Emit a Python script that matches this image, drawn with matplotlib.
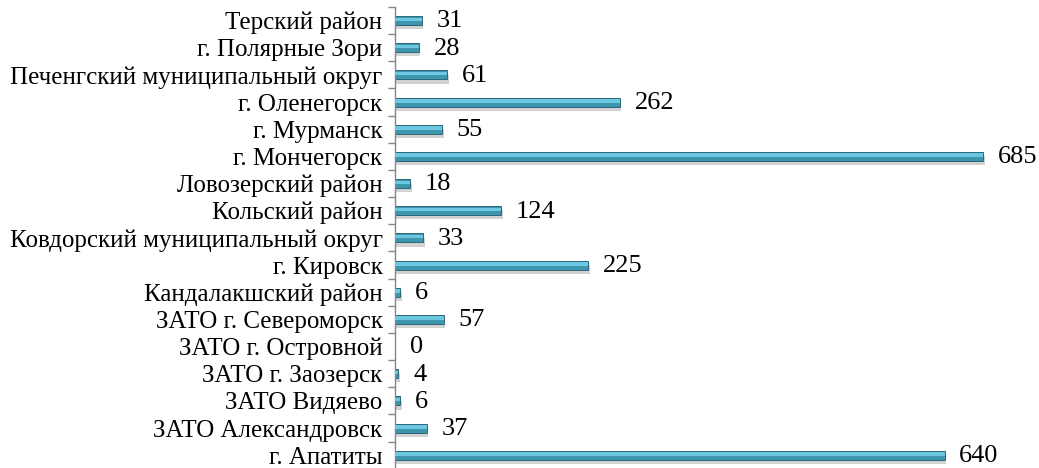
import matplotlib
matplotlib.use("Agg")
import matplotlib.pyplot as plt
import matplotlib.patheffects as pe
import numpy as np

# Districts listed bottom-to-top, as they appear on the y axis
districts = [
    "г. Апатиты",
    "ЗАТО Александровск",
    "ЗАТО Видяево",
    "ЗАТО г. Заозерск",
    "ЗАТО г. Островной",
    "ЗАТО г. Североморск",
    "Кандалакшский район",
    "г. Кировск",
    "Ковдорский муниципальный округ",
    "Кольский район",
    "Ловозерский район",
    "г. Мончегорск",
    "г. Мурманск",
    "г. Оленегорск",
    "Печенгский муниципальный округ",
    "г. Полярные Зори",
    "Терский район",
]
counts = [640, 37, 6, 4, 0, 57, 6, 225, 33, 124, 18, 685, 55, 262, 61, 28, 31]

plt.rcParams["font.family"] = ["Liberation Serif", "DejaVu Serif"]

fig = plt.figure(figsize=(10.39, 4.68), dpi=100)
ax = fig.add_axes([395 / 1039, 0, 1 - 395 / 1039, 1 - 7 / 468])

y = np.arange(len(districts))
bar_h = 0.33
shadow = [pe.SimplePatchShadow(offset=(1.0, -3.0), shadow_rgbFace="#808080", alpha=0.35),
          pe.Normal()]
ax.barh(y, counts, height=bar_h, color="#3e95ae", edgecolor="#2b6779",
        linewidth=0.7, path_effects=shadow, zorder=2)
# lighter band across the upper half gives the bars a rounded look
ax.barh(y + bar_h * 0.14, counts, height=bar_h * 0.38, color="#6cc8e0",
        linewidth=0, zorder=3)

for yi, v in zip(y, counts):
    ax.text(v + 17, yi - 0.03, f"{v}", ha="left", va="center", fontsize=19)

ax.set_xlim(0, 750)
ax.set_ylim(-0.47, len(districts) - 0.5)

ax.set_yticks(y)
ax.set_yticklabels(districts, fontsize=18)
ax.tick_params(axis="y", which="major", length=0, pad=9)
ax.set_yticks(np.arange(len(districts)) + 0.5, minor=True)
ax.tick_params(axis="y", which="minor", length=5, width=1, color="#868686")
ax.set_xticks([])

for side in ["top", "right", "bottom"]:
    ax.spines[side].set_visible(False)
ax.spines["left"].set_color("#868686")
ax.spines["left"].set_linewidth(1)

fig.savefig("out.png", dpi=100)
